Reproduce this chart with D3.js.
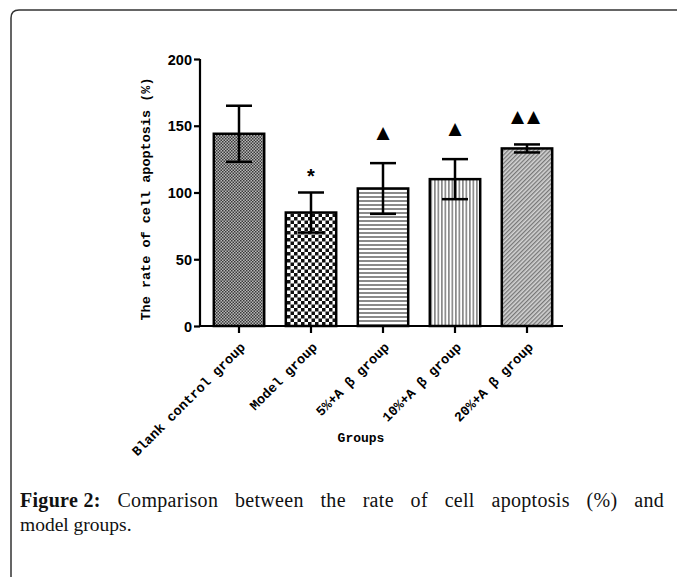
<!DOCTYPE html>
<html><head><meta charset="utf-8">
<script src="https://cdn.jsdelivr.net/npm/d3@7"></script>
<style>body{margin:0;background:#fff}svg{display:block}</style>
</head><body>
<svg id="c" width="677" height="577"></svg>
<script>
const categories = ["Blank control group","Model group","5%+A β group","10%+A β group","20%+A β group"];
const means = [144, 85, 103, 110, 133];
const errors = [21, 15, 19, 15, 3];
const markers = ["", "*", "▲", "▲", "▲▲"];
const yTicks = [0, 50, 100, 150, 200];
const patterns = ["pFine","pCheck","pHoriz","pVert","pDiag"];
const captionLine1 = [["Figure 2:",true],["Comparison",false],["between",false],["the",false],["rate",false],["of",false],["cell",false],["apoptosis",false],["(%)",false],["and",false]];
const captionLine2 = "model groups.";

const svg = d3.select("#c");
const defs = svg.append("defs");

let p = defs.append("pattern").attr("id","pFine").attr("patternUnits","userSpaceOnUse").attr("width",3).attr("height",3);
p.append("rect").attr("width",3).attr("height",3).attr("fill","#b8b8b8");
p.append("rect").attr("width",1.5).attr("height",1.5).attr("fill","#3a3a3a");
p.append("rect").attr("x",1.5).attr("y",1.5).attr("width",1.5).attr("height",1.5).attr("fill","#3a3a3a");

p = defs.append("pattern").attr("id","pCheck").attr("patternUnits","userSpaceOnUse").attr("width",7).attr("height",7);
p.append("rect").attr("width",7).attr("height",7).attr("fill","#fff");
p.append("rect").attr("width",3.5).attr("height",3.5).attr("fill","#111");
p.append("rect").attr("x",3.5).attr("y",3.5).attr("width",3.5).attr("height",3.5).attr("fill","#111");

p = defs.append("pattern").attr("id","pHoriz").attr("patternUnits","userSpaceOnUse").attr("width",4).attr("height",4);
p.append("rect").attr("width",4).attr("height",4).attr("fill","#fff");
p.append("rect").attr("width",4).attr("height",2).attr("fill","#8a8a8a");

p = defs.append("pattern").attr("id","pVert").attr("patternUnits","userSpaceOnUse").attr("width",3.5).attr("height",4);
p.append("rect").attr("width",3.5).attr("height",4).attr("fill","#fff");
p.append("rect").attr("width",1.7).attr("height",4).attr("fill","#8a8a8a");

p = defs.append("pattern").attr("id","pDiag").attr("patternUnits","userSpaceOnUse").attr("width",3).attr("height",3).attr("patternTransform","rotate(45)");
p.append("rect").attr("width",3).attr("height",3).attr("fill","#d4d4d4");
p.append("rect").attr("width",1.3).attr("height",3).attr("fill","#777");

svg.append("path").attr("d","M11,577 L11,18 Q11,10 19,10 L677,10")
  .attr("fill","none").attr("stroke","#333").attr("stroke-width",1.5);

const x = d3.scaleBand().domain(categories).range([203,563]).paddingInner(0.3).paddingOuter(0.15);
const y = d3.scaleLinear().domain([0,200]).range([326,59]);

const g = svg.append("g");
g.selectAll("rect.bar").data(categories).join("rect")
  .attr("x",d=>x(d)).attr("y",(d,i)=>y(means[i]))
  .attr("width",x.bandwidth()).attr("height",(d,i)=>y(0)-y(means[i]))
  .attr("fill",(d,i)=>`url(#${patterns[i]})`).attr("stroke","#000").attr("stroke-width",2.5);

const cap = 13;
categories.forEach((d,i)=>{
  const cx = x(d)+x.bandwidth()/2;
  g.append("line").attr("x1",cx).attr("x2",cx).attr("y1",y(means[i]+errors[i])).attr("y2",y(means[i]-errors[i])).attr("stroke","#000").attr("stroke-width",2.5);
  [means[i]+errors[i], means[i]-errors[i]].forEach(v=>{
    g.append("line").attr("x1",cx-cap).attr("x2",cx+cap).attr("y1",y(v)).attr("y2",y(v)).attr("stroke","#000").attr("stroke-width",2.5);
  });
});

categories.forEach((d,i)=>{
  if(!markers[i]) return;
  const cx = x(d)+x.bandwidth()/2;
  const top = y(means[i]+errors[i]);
  if(markers[i]==="*"){
    g.append("text").attr("x",cx).attr("y",top-10).attr("text-anchor","middle")
      .attr("font-family","Liberation Sans").attr("font-weight","bold").attr("font-size",20).text("*");
  } else {
    g.append("text").attr("x",cx).attr("y",top-(markers[i].length>1?22:25)).attr("text-anchor","middle")
      .attr("font-family","DejaVu Sans").attr("font-size",17).attr("letter-spacing",markers[i].length>1?3:0).text(markers[i]);
  }
});

const yAxis = d3.axisLeft(y).tickValues(yTicks).tickSize(6).tickPadding(2);
const ya = svg.append("g").attr("transform","translate(200,0)").call(yAxis);
ya.select(".domain").attr("stroke-width",2.2).attr("d","M0,59V326");
ya.selectAll(".tick line").attr("stroke-width",2.2);
ya.selectAll(".tick text").attr("font-family","Liberation Sans").attr("font-weight","bold").attr("font-size",14.5).attr("fill","#000").attr("dy","0.35em");

const xAxis = d3.axisBottom(x).tickSize(7).tickSizeOuter(0);
const xa = svg.append("g").attr("transform","translate(0,326)").call(xAxis);
xa.select(".domain").attr("stroke-width",2.2).attr("d","M199,0H563");
xa.selectAll(".tick line").attr("stroke-width",2.2);
xa.selectAll(".tick text").attr("font-family","Liberation Mono").attr("font-weight","bold").attr("font-size",13.5).attr("fill","#000")
  .attr("text-anchor","end").attr("transform","translate(7,22) rotate(-45)").attr("dy","0").attr("y",0);

svg.append("text").attr("transform","translate(150,199) rotate(-90)").attr("text-anchor","middle")
  .attr("font-family","Liberation Mono").attr("font-weight","bold").attr("font-size",13.5).text("The rate of cell apoptosis (%)");
svg.append("text").attr("x",361).attr("y",442).attr("text-anchor","middle")
  .attr("font-family","Liberation Mono").attr("font-weight","bold").attr("font-size",13).text("Groups");

const capFont = 20, capLeft = 20, capRight = 664;
const words = captionLine1.map(([w,b])=>svg.append("text").attr("y",507).attr("font-family","Liberation Serif")
  .attr("font-size",capFont).attr("letter-spacing",0.3).attr("font-weight",b?"bold":"normal").attr("fill","#111").text(w));
const widths = words.map(t=>t.node().getComputedTextLength());
const total = d3.sum(widths);
const gap = (capRight-capLeft-total)/(words.length-1);
let cx0 = capLeft;
words.forEach((t,i)=>{ t.attr("x",cx0); cx0 += widths[i]+gap; });
svg.append("text").attr("x",capLeft).attr("y",531).attr("font-family","Liberation Serif").attr("font-size",19.5).attr("fill","#111").text(captionLine2);
</script>
</body></html>
